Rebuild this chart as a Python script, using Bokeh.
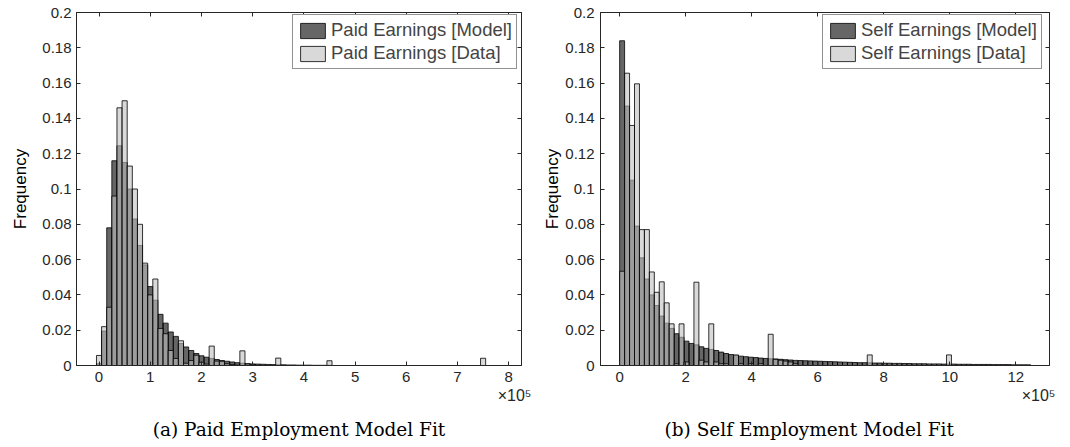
import numpy as np
from bokeh.plotting import figure
from bokeh.layouts import row
from bokeh.models import (Range1d, LinearAxis, FixedTicker, CustomJSTickFormatter,
                          Legend, LegendItem, Title)
from bokeh.embed import file_html
from bokeh.resources import INLINE

# ---- data (frequencies, x in units of 1e5) ----
y_ticks = [0, 0.02, 0.04, 0.06, 0.08, 0.1, 0.12, 0.14, 0.16, 0.18, 0.2]

# paid employment: bins of 0.1e5, centred on multiples of 0.1
paid_bin_width = 0.1
paid_x_ticks = [0, 1, 2, 3, 4, 5, 6, 7, 8]
paid_model = [0.001, 0.0195, 0.078, 0.116, 0.1245, 0.115, 0.100, 0.083, 0.068, 0.057,
              0.0447, 0.037, 0.029, 0.024, 0.019, 0.0165, 0.0125, 0.0105, 0.0085, 0.0068,
              0.0055, 0.0047, 0.004, 0.0034, 0.0028, 0.0024, 0.002, 0.0016, 0.0013, 0.0011,
              0.0009, 0.0008, 0.0007, 0.0006, 0.0005, 0.0004, 0.0004, 0.0003, 0.0003, 0.0002,
              0.0002, 0.0002, 0.0001, 0.0001, 0.0001, 0.0001]
paid_data = [0.0057, 0.022, 0.033, 0.096, 0.146, 0.150, 0.113, 0.100, 0.080, 0.058,
             0.040, 0.049, 0.021, 0.018, 0.0085, 0.004, 0.014, 0.0013, 0.0028, 0.0058,
             0.0018, 0.0008, 0.011, 0.0025, 0.0024, 0.001, 0.0005, 0.0002, 0.0083, 0.0,
             0.0003, 0.0, 0.0, 0.0, 0.0, 0.0042]
paid_data_extra_bins = [45, 75]
paid_data_extra = [0.0027, 0.0041]

# self employment: bins of 0.15e5 starting at 0
self_bin_width = 0.15
self_x_ticks = [0, 2, 4, 6, 8, 10, 12]
self_model = [0.184, 0.147, 0.105, 0.079, 0.061, 0.049, 0.040, 0.034, 0.028, 0.024,
              0.021, 0.018, 0.016, 0.0138, 0.0125, 0.0117, 0.0106, 0.0097, 0.0091, 0.0085,
              0.0076, 0.0068, 0.0062, 0.0057, 0.0053, 0.0050, 0.0047, 0.0045, 0.0042, 0.0040,
              0.0038, 0.0037, 0.0035, 0.0033, 0.0031, 0.0029, 0.0028, 0.0027, 0.0026, 0.0025,
              0.0024, 0.0023, 0.0022, 0.0021, 0.0020, 0.0019, 0.0018, 0.0017, 0.0016, 0.0016,
              0.0015, 0.0014, 0.0014, 0.0013, 0.0013, 0.0012, 0.0012, 0.0011, 0.0011, 0.0010,
              0.0010, 0.0010, 0.0009, 0.0009, 0.0009, 0.0008, 0.0008, 0.0008, 0.0007, 0.0007,
              0.0007, 0.0006, 0.0006, 0.0006, 0.0006, 0.0005, 0.0005, 0.0005, 0.0005, 0.0004,
              0.0004, 0.0004, 0.0004]
self_data = [0.0534, 0.1656, 0.136, 0.1596, 0.077, 0.077, 0.053, 0.0415, 0.0474, 0.0355,
             0.0236, 0.001, 0.0236, 0.002, 0.0, 0.0472, 0.003, 0.002, 0.0236, 0.002,
             0.001, 0.001, 0.0, 0.006, 0.001, 0.0, 0.001, 0.0, 0.001, 0.0,
             0.0177, 0.0035, 0.003, 0.0025, 0.002, 0.001]
self_data_extra_bins = [50, 66]
self_data_extra = [0.006, 0.006]

AX = "#262626"
FONT = "Liberation Sans"


def make_panel(model, data, extra_bins, extra, width, offset, x_range, x_ticks,
               names, caption, cap_align, cap_offset, frame_w, border_left,
               border_right, ylab_standoff, ylab_tick_standoff, legend_x, exp_offset):
    p = figure(frame_width=frame_w, frame_height=353,
               x_range=Range1d(*x_range), y_range=Range1d(0, 0.2),
               toolbar_location=None, output_backend="svg",
               min_border_left=border_left, min_border_right=border_right,
               min_border_top=12, min_border_bottom=60)
    p.grid.visible = False
    p.outline_line_color = AX
    p.background_fill_color = "white"
    p.border_fill_color = "white"

    k_model = np.arange(len(model))
    k_data = np.concatenate([np.arange(len(data)), extra_bins])
    data_all = np.concatenate([data, extra])

    r_model = p.quad(left=k_model * width + offset, right=(k_model + 1) * width + offset,
                     bottom=0, top=model, fill_color="black", fill_alpha=0.6,
                     line_color="black", line_width=0.8)
    r_data = p.quad(left=k_data * width + offset, right=(k_data + 1) * width + offset,
                    bottom=0, top=data_all, fill_color="#c0c0c0", fill_alpha=0.6,
                    line_color="black", line_width=0.8)

    fmt = CustomJSTickFormatter(code="return String(Math.round(tick*1000)/1000)")
    xt = FixedTicker(ticks=x_ticks)
    yt = FixedTicker(ticks=y_ticks)
    for ax, tk in ((p.xaxis[0], xt), (p.yaxis[0], yt)):
        ax.ticker = tk
        ax.formatter = fmt
        ax.major_tick_in = 4
        ax.major_tick_out = 0
        ax.minor_tick_line_color = None
        ax.axis_line_color = AX
        ax.major_tick_line_color = AX
        ax.major_label_text_color = AX
        ax.major_label_text_font = FONT
        ax.major_label_text_font_size = "15px"
    p.xaxis[0].major_label_standoff = 6
    p.yaxis[0].major_label_standoff = ylab_tick_standoff
    p.yaxis[0].axis_label = "Frequency"
    p.yaxis[0].axis_label_text_font = FONT
    p.yaxis[0].axis_label_text_font_size = "17px"
    p.yaxis[0].axis_label_text_font_style = "normal"
    p.yaxis[0].axis_label_text_color = "black"
    p.yaxis[0].axis_label_standoff = ylab_standoff

    # mirrored ticks on top and right (box on), no labels
    for side, tk in (("above", xt), ("right", yt)):
        ax = LinearAxis(ticker=tk, major_tick_in=4, major_tick_out=0,
                        minor_tick_line_color=None, axis_line_color=AX,
                        major_tick_line_color=AX, major_label_text_font_size="0px",
                        major_label_text_color=None, major_label_standoff=0)
        p.add_layout(ax, side)

    legend = Legend(items=[LegendItem(label=names[0], renderers=[r_model]),
                           LegendItem(label=names[1], renderers=[r_data])],
                    location=(legend_x, 296), glyph_width=31, glyph_height=19,
                    label_text_font=FONT, label_text_font_size="18.5px",
                    label_standoff=3, padding=4, spacing=1, margin=0,
                    border_line_color=AX, border_line_width=1,
                    background_fill_alpha=1)
    p.add_layout(legend)

    # x10^5 exponent and the subfigure caption below the axis
    p.add_layout(Title(text="\u00d710\u2075", align="right", offset=exp_offset,
                       text_font=FONT, text_font_size="16px",
                       text_font_style="normal", text_color=AX, standoff=0),
                 "below")
    p.add_layout(Title(text=caption, align=cap_align, offset=cap_offset,
                       text_font="DejaVu Serif", text_font_size="18.5px",
                       text_font_style="normal", text_color="black", standoff=26),
                 "below")
    return p


p1 = make_panel(paid_model, paid_data, paid_data_extra_bins, paid_data_extra,
                paid_bin_width, -paid_bin_width / 2, (-0.44, 8.25), paid_x_ticks,
                ("Paid Earnings [Model]", "Paid Earnings [Data]"),
                "(a) Paid Employment Model Fit", "center", 0, 445, 76, 19, 9, 5,
                216, -10)
p2 = make_panel(self_model, self_data, self_data_extra_bins, self_data_extra,
                self_bin_width, 0.0, (-0.58, 13.02), self_x_ticks,
                ("Self Earnings [Model]", "Self Earnings [Data]"),
                "(b) Self Employment Model Fit", "left", 64, 449, 55, 13, 0, 6,
                222, -6)

layout = row(p1, p2)
open("out.html", "w").write(file_html(layout, INLINE))
